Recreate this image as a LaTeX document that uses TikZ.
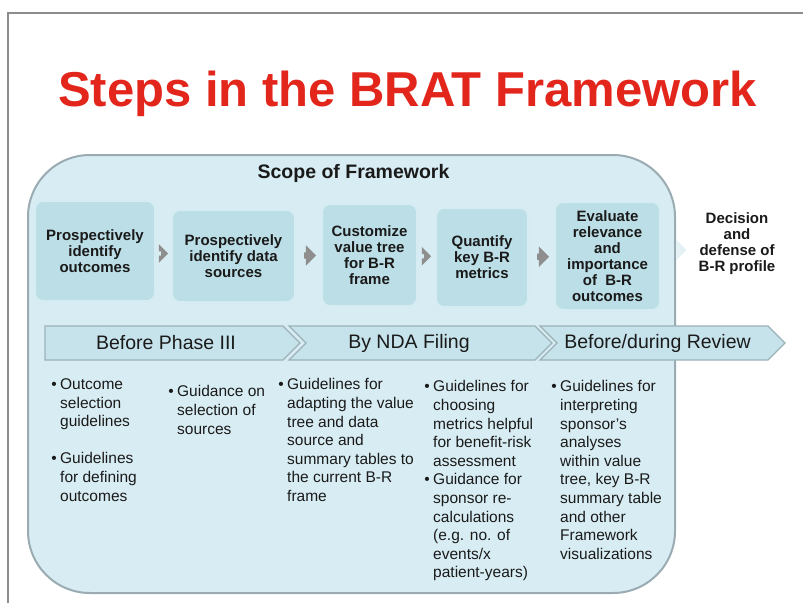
\documentclass[tikz,border=0pt]{standalone}
\usepackage{fontspec}
\setmainfont{Liberation Sans}
\usetikzlibrary{shapes.arrows}
\definecolor{frameg}{HTML}{8C8C8C}
\definecolor{titlered}{HTML}{E3261C}
\definecolor{bgblue}{HTML}{D8EDF3}
\definecolor{bgborder}{HTML}{9AABB2}
\definecolor{boxfill}{HTML}{BCDEE6}
\definecolor{boxedge}{HTML}{D4ECF2}
\definecolor{chevfill}{HTML}{C6E3EB}
\definecolor{chevedge}{HTML}{9CB2B9}
\definecolor{txt}{HTML}{1A1A1A}
\definecolor{arrowg}{HTML}{8E8E8E}
\definecolor{arrowlight}{HTML}{E4F2F6}
\newcommand\mybul{\makebox[0pt][r]{\textbullet\hspace{3.5pt}}}
\begin{document}
\begin{tikzpicture}[x=1pt,y=-1pt,
  stepbox/.style={draw=boxedge, line width=2pt, fill=boxfill, rounded corners=8pt,
    align=center, font=\fontsize{15}{16}\selectfont\bfseries, text=txt, inner sep=0pt},
  bulletcol/.style={anchor=north west, align=left, inner sep=0pt,
    font=\fontsize{15.5}{18.6}\selectfont, text=txt},
  chev/.style={draw=chevedge, line width=1.2pt, fill=chevfill},
  chevlabel/.style={font=\fontsize{19.5}{22}\selectfont, text=txt, inner sep=0pt},
  smallarrow/.style={single arrow, fill=arrowg, draw=none, inner xsep=0pt, inner ysep=2pt,
    minimum height=7pt, minimum width=9pt},
  bigarrow/.style={single arrow, fill=arrowg, draw=none, inner xsep=0pt, inner ysep=3pt,
    minimum height=12pt, minimum width=12pt},
  lightarrow/.style={single arrow, fill=arrowlight, draw=none, inner xsep=0pt, inner ysep=3pt,
    minimum height=10pt, minimum width=14pt}
]
\useasboundingbox (0,0) rectangle (803,603);
\fill[white] (0,0) rectangle (803,603);
% frame
\draw[frameg, line width=1.5pt] (8,603) -- (8,13) -- (803,13);
% title
\node[anchor=base, inner sep=0pt, font=\fontsize{49}{55}\selectfont\bfseries, text=titlered]
  (title) at (407.5,106) {Steps in the BRAT Framework};
% scope background
\draw[fill=bgblue, draw=bgborder, line width=2pt, rounded corners=62pt] (28,155) rectangle (675,593);
\node[anchor=base, inner sep=0pt, font=\fontsize{19.5}{22}\selectfont\bfseries, text=txt]
  (scope) at (353.5,178) {Scope of Framework};
% step boxes
\node[stepbox, minimum width=120pt, minimum height=100pt] (b1) at (95,251)
  {Prospectively\\identify\\outcomes};
\node[stepbox, minimum width=123pt, minimum height=92pt] (b2) at (233.5,256)
  {Prospectively\\identify data\\sources};
\node[stepbox, minimum width=95pt, minimum height=102pt] (b3) at (369.5,255)
  {Customize\\value tree\\for B-R\\frame};
\node[stepbox, minimum width=92pt, minimum height=99pt] (b4) at (482,257.5)
  {Quantify\\key B-R\\metrics};
\node[stepbox, minimum width=105pt, minimum height=108pt] (b5) at (607.5,256)
  {Evaluate\\relevance\\and\\importance\\of~ B-R\\outcomes};
\node[align=center, inner sep=0pt, font=\fontsize{15}{16}\selectfont\bfseries, text=txt]
  (dec) at (737,244) {Decision\\and\\defense of\\B-R profile};
% arrows between steps
\path (b1.east) -- (b2.west) node[midway, smallarrow] (a1) {};
\path (b2.east) -- (b3.west) node[midway, bigarrow] (a2) {};
\path (b3.east) -- (b4.west) node[midway, smallarrow] (a3) {};
\path (b4.east) -- (b5.west) node[midway, bigarrow] (a4) {};
\path (b5.east) -- (dec.west) node[midway, lightarrow] (a5) {};
% chevrons
\draw[chev] (45,326) -- (283,326) -- (300,343) -- (283,360) -- (45,360) -- cycle;
\draw[chev] (289,326) -- (535,326) -- (552,343) -- (535,360) -- (289,360) -- (306,343) -- cycle;
\draw[chev] (540,326) -- (768,326) -- (785,343) -- (768,360) -- (540,360) -- (557,343) -- cycle;
\node[chevlabel] (p1) at (166,343) {Before Phase III};
\node[chevlabel] (p2) at (409,343) {By NDA Filing};
\node[chevlabel] (p3) at (657.5,343) {Before/during Review};
% bullet columns
\node[bulletcol] (c1) at (60,378.5)
  {\mybul Outcome\\selection\\guidelines\\[18.6pt]\mybul Guidelines\\for defining\\outcomes};
\node[bulletcol] (c2) at (177,385.5)
  {\mybul Guidance on\\selection of\\sources};
\node[bulletcol] (c3) at (287,378.5)
  {\mybul Guidelines for\\adapting the value\\tree and data\\source and\\summary tables to\\the current B-R\\frame};
\node[bulletcol] (c4) at (433,380.5)
  {\mybul Guidelines for\\choosing\\metrics helpful\\for benefit-risk\\assessment\\\mybul Guidance for\\sponsor re-\\calculations\\(e.g. no. of\\events/x\\patient-years)};
\node[bulletcol] (c5) at (560,380.5)
  {\mybul Guidelines for\\interpreting\\sponsor’s\\analyses\\within value\\tree, key B-R\\summary table\\and other\\Framework\\visualizations};
\end{tikzpicture}
\end{document}
